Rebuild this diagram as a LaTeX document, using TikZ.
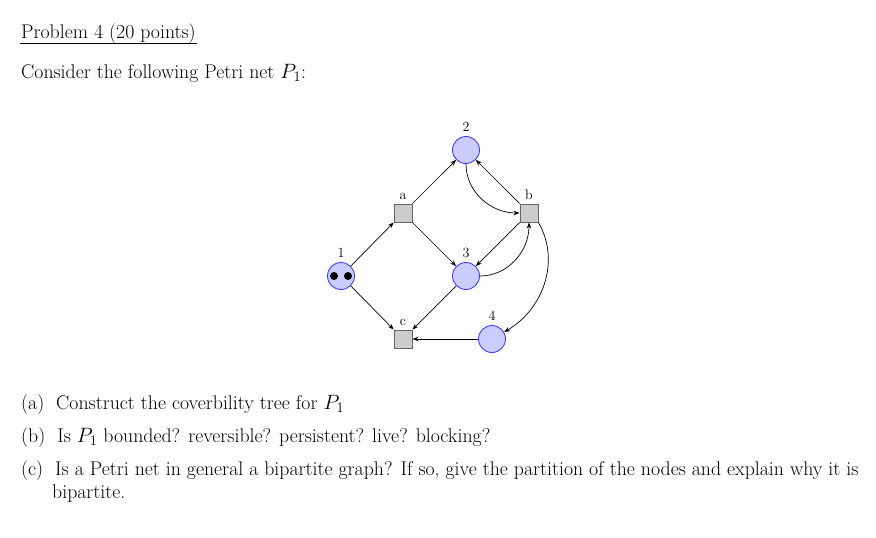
\documentclass[tikz,border=0pt]{standalone}
\usetikzlibrary{arrows.meta}
\begin{document}
\begin{tikzpicture}[x=1pt,y=-1pt,
  txt/.style={anchor=base west,inner sep=0pt,font=\fontsize{19.8}{23}\selectfont},
  place/.style={circle,draw=blue!75,fill=blue!20,minimum size=27pt,inner sep=0pt,line width=0.9pt},
  trans/.style={rectangle,draw=black!60,fill=black!20,minimum size=18pt,inner sep=0pt,line width=0.9pt},
  lbl/.style={font=\fontsize{14}{16}\selectfont,inner sep=1pt,label distance=3pt},
  arc/.style={-{Stealth[length=6pt,width=4.5pt]},line width=0.7pt}]
\useasboundingbox (0,0) rectangle (876,538);
\node[txt] (title) at (21,38) {Problem 4 (20 points)};
\draw[line width=0.6pt] (20,43) -- (197,43);
\node[txt] (intro) at (21,78) {Consider the following Petri net $P_1$:};
\node[place,label={[lbl]above:1}] (p1) at (341,276) {};
\fill (334,276) circle (4pt) (348,276) circle (4pt);
\node[place,label={[lbl]above:2}] (p2) at (466,150) {};
\node[place,label={[lbl]above:3}] (p3) at (466,276) {};
\node[place,label={[lbl]above:4}] (p4) at (492,339) {};
\node[trans,label={[lbl]above:a}] (ta) at (403,213) {};
\node[trans,label={[lbl]above:b}] (tb) at (529,213) {};
\node[trans,label={[lbl]above:c}] (tc) at (403,339) {};
\draw[arc] (p1) -- (ta);
\draw[arc] (ta) -- (p2);
\draw[arc] (ta) -- (p3);
\draw[arc] (p1) -- (tc);
\draw[arc] (p3) -- (tc);
\draw[arc] (p4) -- (tc);
\draw[arc] (tb) -- (p2);
\draw[arc] (tb) -- (p3);
\draw[arc] (p2) to[out=-90,in=180] (tb);
\draw[arc] (p3) to[out=0,in=-90] (tb);
\draw[arc] (tb.south east) to[out=-60,in=30] (p4);
\node[txt] (qa) at (21,409) {(a)\ \ Construct the coverbility tree for $P_1$};
\node[txt] (qb) at (21,442) {(b)\ \ Is $P_1$ bounded? reversible? persistent? live? blocking?};
\node[txt] (qc) at (21,475) {(c)\ \ Is a Petri net in general a bipartite graph? If so, give the partition of the nodes and explain why it is};
\node[txt] (qc2) at (52,498) {bipartite.};
\end{tikzpicture}
\end{document}
